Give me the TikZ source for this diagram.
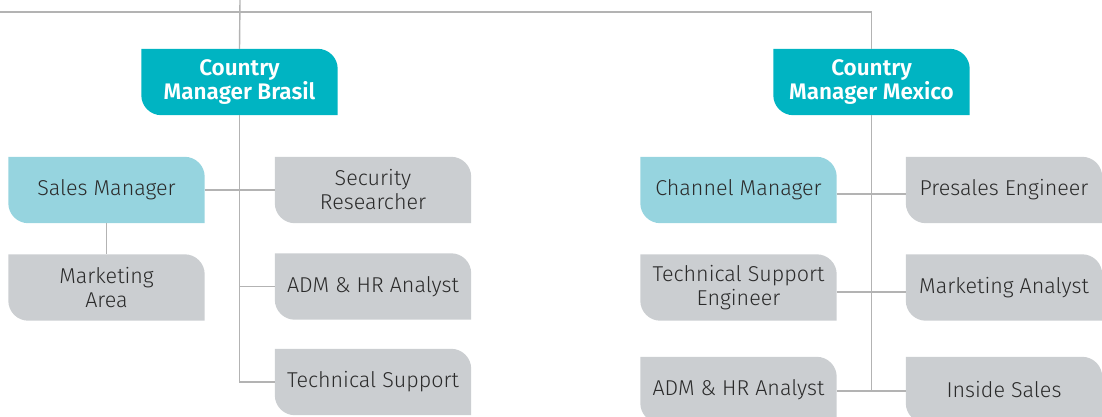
\documentclass[tikz,border=0pt]{standalone}
\usepackage{fontspec}
\setmainfont{Fira Sans}[UprightFont=* Light, BoldFont=* SemiBold]
\usetikzlibrary{backgrounds}
\definecolor{cmteal}{HTML}{00B4C2}
\definecolor{lteal}{HTML}{96D4DF}
\definecolor{boxgray}{HTML}{CBCED1}
\definecolor{linegray}{HTML}{B3B3B3}
\definecolor{txt}{HTML}{2B2B2B}
\newcommand\leafshape[2]{%
  \fill[#2] (#1.north west) -- ([xshift=-20pt]#1.north east)
    arc[start angle=90,end angle=0,radius=20pt] -- (#1.south east)
    -- ([xshift=20pt]#1.south west)
    arc[start angle=270,end angle=180,radius=20pt] -- cycle;}
\tikzset{
  orgbox/.style={inner sep=0pt, minimum width=196pt, minimum height=66pt,
    align=center, text=txt, font=\fontsize{21.5}{24}\selectfont},
  headbox/.style={orgbox, text=white, font=\fontsize{22.5}{24}\selectfont\bfseries},
  conn/.style={draw=linegray, line width=1.4pt}
}
\begin{document}
\begin{tikzpicture}[x=1pt,y=-1pt]
\useasboundingbox (0,0) rectangle (1102,416);
% nodes
\node[headbox] (cmb) at (239.5,82) {Country\\Manager Brasil};
\node[headbox] (cmm) at (871.5,82) {Country\\Manager Mexico};
\node[orgbox] (sm) at (106.5,190) {Sales Manager};
\node[orgbox] (mka) at (106.5,287.5) {Marketing\\Area};
\node[orgbox] (sr) at (373,190) {Security\\Researcher};
\node[orgbox] (adb) at (373,286.5) {ADM \& HR Analyst};
\node[orgbox] (ts) at (373,382) {Technical Support};
\node[orgbox] (ch) at (738.5,190) {Channel Manager};
\node[orgbox] (pe) at (1004,190) {Presales Engineer};
\node[orgbox] (tse) at (738.5,287.5) {Technical Support\\Engineer};
\node[orgbox] (man) at (1004,287.5) {Marketing Analyst};
\node[orgbox] (adm) at (738.5,390) {ADM \& HR Analyst};
\node[orgbox] (is) at (1004,390) {Inside Sales};
\coordinate (top) at (240,0);
\coordinate (lft) at (0,12);
\begin{scope}[on background layer]
\leafshape{cmb}{cmteal}
\leafshape{cmm}{cmteal}
\leafshape{sm}{lteal}
\leafshape{ch}{lteal}
\foreach \n in {mka,sr,adb,ts,pe,tse,man,adm,is} {\leafshape{\n}{boxgray}}
\end{scope}
% connectors
\draw[conn] (top) -- (cmb.north);
\draw[conn] (lft) -- (lft -| cmm.north) -- (cmm.north);
\draw[conn] (cmb.south) -- (cmb.south |- ts.west) -- (ts.west);
\draw[conn] (sm.east) -- (sr.west);
\draw[conn] (cmb.south |- adb.west) -- (adb.west);
\draw[conn] (sm.south) -- (mka.north);
\draw[conn] (cmm.south) -- ([yshift=-1pt]cmm.south |- adm.east);
\draw[conn] ([yshift=-4pt]ch.east) -- ([yshift=-4pt]pe.west);
\draw[conn] ([yshift=-4.5pt]tse.east) -- ([yshift=-4.5pt]man.west);
\draw[conn] ([yshift=-1pt]adm.east) -- ([yshift=-1pt]is.west);
\end{tikzpicture}
\end{document}
